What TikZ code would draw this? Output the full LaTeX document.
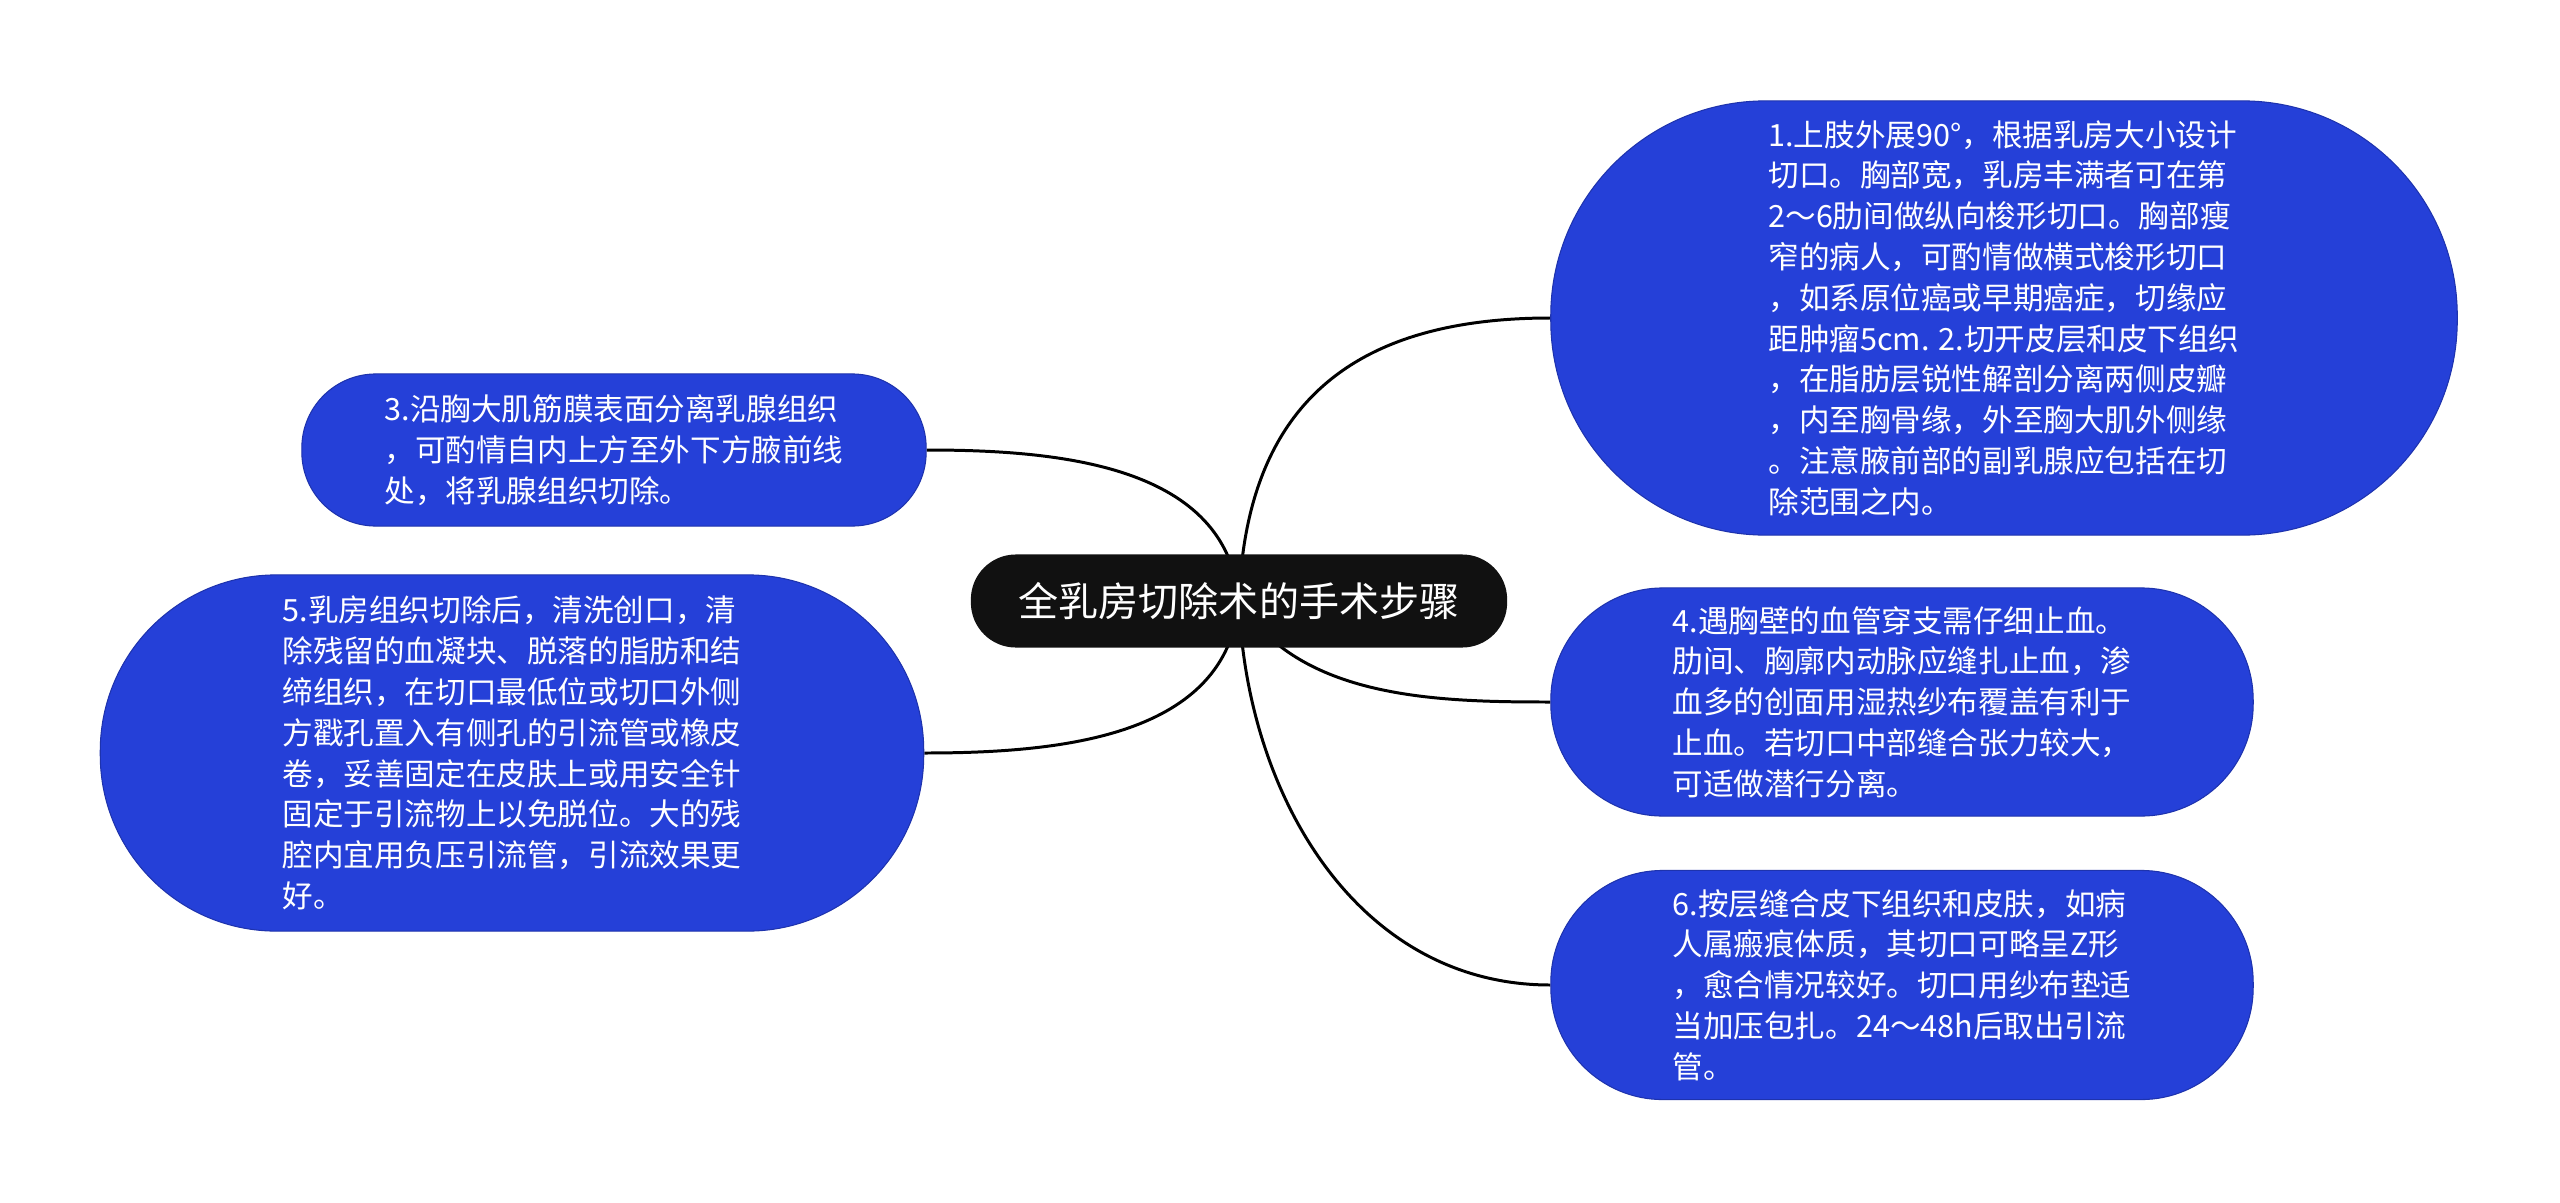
\documentclass[tikz,border=0pt]{standalone}
\usepackage{fontspec}
\setmainfont{Noto Sans CJK SC}
\usetikzlibrary{backgrounds}

\definecolor{leafblue}{RGB}{37,64,216}
\definecolor{rootblack}{RGB}{17,17,17}

\tikzset{
  rootnode/.style={fill=rootblack, text=white, rounded corners=0.45cm,
    minimum width=5.36cm, minimum height=0.93cm,
    font=\fontsize{11.4}{14}\selectfont},
  leafnode/.style={fill=leafblue, draw=leafblue!80!black, line width=0.3pt,
    text=white, align=left, font=\fontsize{8.7}{11.6}\selectfont},
  branchline/.style={line width=0.85pt, black}
}

\begin{document}
\begin{tikzpicture}[x=0.01cm, y=0.01cm]
    \path[use as bounding box] (0,0) rectangle (2560,-1203);

    % Root
    \node[rootnode] (root) at (1239,-601) {全乳房切除术的手术步骤};

    % Right side
    \node[leafnode, minimum width=9.06cm, minimum height=4.34cm, rounded corners=2.15cm] (step1) at (2004,-318)
      {1.上肢外展90°，根据乳房大小设计\\切口。胸部宽，乳房丰满者可在第\\2～6肋间做纵向梭形切口。胸部瘦\\窄的病人，可酌情做横式梭形切口\\，如系原位癌或早期癌症，切缘应\\距肿瘤5cm. 2.切开皮层和皮下组织\\，在脂肪层锐性解剖分离两侧皮瓣\\，内至胸骨缘，外至胸大肌外侧缘\\。注意腋前部的副乳腺应包括在切\\除范围之内。};
    \node[leafnode, minimum width=7.02cm, minimum height=2.28cm, rounded corners=1.12cm] (step4) at (1902,-702)
      {4.遇胸壁的血管穿支需仔细止血。\\肋间、胸廓内动脉应缝扎止血，渗\\血多的创面用湿热纱布覆盖有利于\\止血。若切口中部缝合张力较大，\\可适做潜行分离。};
    \node[leafnode, minimum width=7.02cm, minimum height=2.29cm, rounded corners=1.12cm] (step6) at (1902,-985)
      {6.按层缝合皮下组织和皮肤，如病\\人属瘢痕体质，其切口可略呈Z形\\，愈合情况较好。切口用纱布垫适\\当加压包扎。24～48h后取出引流\\管。};

    % Left side
    \node[leafnode, minimum width=6.24cm, minimum height=1.52cm, rounded corners=0.74cm] (step3) at (614,-450)
      {3.沿胸大肌筋膜表面分离乳腺组织\\，可酌情自内上方至外下方腋前线\\处，将乳腺组织切除。};
    \node[leafnode, minimum width=8.23cm, minimum height=3.56cm, rounded corners=1.76cm] (step5) at (512,-753)
      {5.乳房组织切除后，清洗创口，清\\除残留的血凝块、脱落的脂肪和结\\缔组织，在切口最低位或切口外侧\\方戳孔置入有侧孔的引流管或橡皮\\卷，妥善固定在皮肤上或用安全针\\固定于引流物上以免脱位。大的残\\腔内宜用负压引流管，引流效果更\\好。};

    % Branches
    \begin{pgfonlayer}{background}
      \draw[branchline] (root.center) to[out=88, in=180, looseness=1.2] (step1.west);
      \draw[branchline] (root.center) to[out=-58, in=180, looseness=0.9] (step4.west);
      \draw[branchline] (root.center) to[out=-88, in=180] (step6.west);
      \draw[branchline] (root.center) to[out=95, in=0] (step3.east);
      \draw[branchline] (root.center) to[out=-95, in=0] (step5.east);
    \end{pgfonlayer}
\end{tikzpicture}
\end{document}
